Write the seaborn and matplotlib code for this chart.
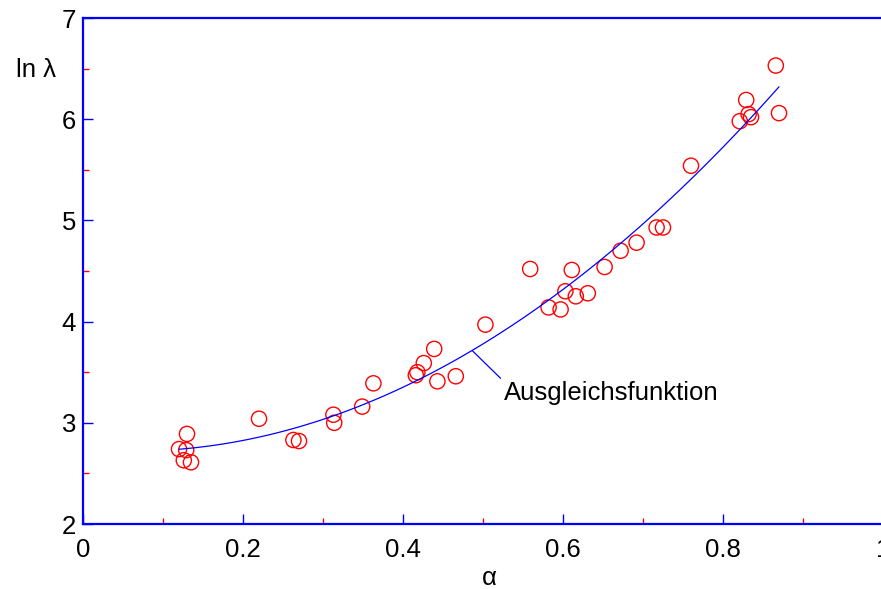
import numpy as np
import pandas as pd
import matplotlib
matplotlib.use('Agg')
import matplotlib.pyplot as plt
from matplotlib.ticker import MultipleLocator
import seaborn as sns

alpha = [0.120, 0.130, 0.129, 0.126, 0.135, 0.220, 0.263, 0.270, 0.313, 0.314,
         0.349, 0.363, 0.416, 0.418, 0.426, 0.439, 0.443, 0.466, 0.503, 0.559,
         0.582, 0.597, 0.603, 0.611, 0.616, 0.631, 0.652, 0.672, 0.692, 0.717,
         0.725, 0.760, 0.821, 0.829, 0.832, 0.835, 0.866, 0.870]
ln_lambda = [2.74, 2.89, 2.73, 2.63, 2.61, 3.04, 2.83, 2.82, 3.08, 3.00,
             3.16, 3.39, 3.47, 3.50, 3.59, 3.73, 3.41, 3.46, 3.97, 4.52,
             4.14, 4.12, 4.30, 4.51, 4.25, 4.28, 4.54, 4.70, 4.78, 4.93,
             4.93, 5.54, 5.98, 6.19, 6.05, 6.02, 6.53, 6.06]

x_ticks = [0, 0.2, 0.4, 0.6, 0.8, 1]
x_ticklabels = ['0', '0.2', '0.4', '0.6', '0.8', '1']
y_ticks = [2, 3, 4, 5, 6, 7]

df = pd.DataFrame({'alpha': alpha, 'ln_lambda': ln_lambda})

sns.set_style('white')
plt.rcParams['font.family'] = ['Liberation Sans', 'DejaVu Sans']
plt.rcParams['text.color'] = 'black'

fig = plt.figure(figsize=(8.81, 5.89), dpi=100)
ax = fig.add_axes([83 / 881, 65 / 589, 800 / 881, 506 / 589])

# Ausgleichsfunktion als quadratische Regression
sns.regplot(data=df, x='alpha', y='ln_lambda', order=2, ci=None, ax=ax,
            scatter_kws={'s': 120, 'facecolors': 'none', 'edgecolors': 'red',
                         'linewidths': 1.0, 'alpha': 1},
            line_kws={'color': 'blue', 'lw': 0.9})

ax.set_xlim(0, 1)
ax.set_ylim(2, 7)
ax.set_xticks(x_ticks)
ax.set_xticklabels(x_ticklabels)
ax.set_yticks(y_ticks)
ax.xaxis.set_minor_locator(MultipleLocator(0.1))
ax.yaxis.set_minor_locator(MultipleLocator(0.5))

ax.tick_params(which='both', bottom=True, left=True, top=False, right=False)
ax.tick_params(which='major', direction='in', length=7.2, width=1, color='blue',
               labelsize=18.5, labelcolor='black')
ax.tick_params(which='minor', direction='in', length=4.3, width=1, color='red')
ax.tick_params(axis='x', which='major', pad=10)
ax.tick_params(axis='y', which='major', pad=5)

for side in ['left', 'bottom', 'top', 'right']:
    ax.spines[side].set_color('blue')
    ax.spines[side].set_linewidth(1.6)

ax.set_xlabel('')
ax.set_ylabel('')
fig.text(489 / 881, 1 - 578 / 589, 'α', ha='center', va='center', fontsize=18.5)
fig.text(36 / 881, 1 - 70 / 589, 'ln λ', ha='center', va='center', fontsize=18.5)

ax.annotate('Ausgleichsfunktion', xy=(0.487, 3.71), xytext=(0.526, 3.29),
            ha='left', va='center', fontsize=18.5,
            arrowprops=dict(arrowstyle='-', color='blue', lw=0.9,
                            relpos=(0, 1), shrinkA=0, shrinkB=0))

fig.savefig('out.png', dpi=100)
